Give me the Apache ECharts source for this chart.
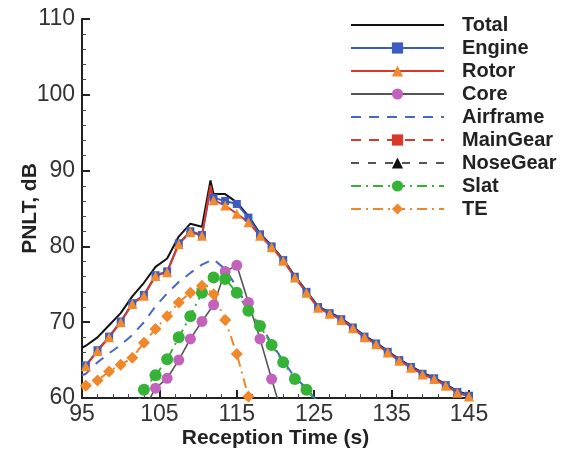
<!DOCTYPE html>
<html>
<head>
<meta charset="utf-8">
<script src="https://cdn.jsdelivr.net/npm/echarts@6/dist/echarts.min.js"></script>
<style>
  html, body { margin: 0; padding: 0; background: #fff; }
  #chart { width: 570px; height: 452px; }
</style>
</head>
<body>
<div id="chart"></div>
<script>
// Reception times (s) of the marked samples
const times = [95.5, 97, 98.5, 100, 101.5, 103, 104.5, 106, 107.5, 109, 110.5, 112, 113.5, 115, 116.5,
  118, 119.5, 121, 122.5, 124, 125.5, 127, 128.5, 130, 131.5, 133, 134.5, 136, 137.5, 139, 140.5,
  142, 143.5, 145];

// PNLT (dB) of each noise component at those times; null = no sample
const total = [66.9, 68.0, 69.6, 71.2, 73.4, 75.2, 77.3, 78.4, 81.3, 83.0, 82.6, 86.9, 86.9, 85.8, 84.0,
  81.7, 80.1, 78.3, 76.1, 74.1, 72.1, 71.3, 70.5, 69.4, 68.2, 67.3, 66.2, 65.1, 64.2, 63.3, 62.7,
  61.8, 60.9, 60.4];
const engine = [64.3, 66.3, 68.1, 70.1, 72.5, 73.6, 76.2, 76.7, 80.4, 82.0, 81.5, 86.4, 86.0, 85.6, 83.8,
  81.6, 80.0, 78.2, 76.0, 74.0, 72.0, 71.2, 70.4, 69.3, 68.1, 67.2, 66.1, 65.0, 64.1, 63.2, 62.6,
  61.7, 60.8, 60.3];
const rotor = [64.2, 66.2, 68.0, 70.0, 72.4, 73.5, 76.1, 76.6, 80.3, 81.9, 81.4, 86.1, 85.4, 84.3, 83.2,
  81.4, 79.9, 78.1, 75.9, 73.9, 71.9, 71.1, 70.3, 69.2, 68.0, 67.1, 66.0, 64.9, 64.0, 63.1, 62.5,
  61.6, 60.7, 60.2];
const core = [null, null, null, null, null, 58.5, 61.3, 62.6, 65.0, 67.8, 70.1, 72.3, 76.7, 77.5, 72.6,
  67.8, 62.5, 57.3, null, null, null, null, null, null, null, null, null, null, null, null, null,
  null, null, null];
const airframe = [63.2, 64.7, 65.9, 67.0, 68.3, 70.0, 72.1, 73.8, 75.3, 76.5, 77.6, 78.3, 77.0, 74.6, 71.8,
  69.7, 67.2, 64.9, 62.7, 61.3, 59.4, null, null, null, null, null, null, null, null, null, null,
  null, null, null];
const mainGear = [57.6, 57.9, 58.1, 58.3, 58.5, 58.6, 58.7, 58.7, 58.6, 58.4, 58.1, 57.7, 57.2, 56.6, 56.0,
  55.3, 54.6, 53.9, 53.2, 52.5, null, null, null, null, null, null, null, null, null, null, null,
  null, null, null];
const noseGear = [53.0, 53.3, 53.6, 53.8, 54.0, 54.1, 54.2, 54.2, 54.1, 53.9, 53.6, 53.2, 52.7, 52.1, 51.5,
  50.8, 50.1, 49.4, 48.7, 48.0, null, null, null, null, null, null, null, null, null, null, null,
  null, null, null];
const slat = [null, null, null, null, 58.0, 61.1, 63.0, 65.1, 68.0, 70.8, 73.9, 75.9, 75.7, 73.9, 71.5,
  69.5, 67.0, 64.7, 62.5, 61.1, 59.3, null, null, null, null, null, null, null, null, null, null,
  null, null, null];
const te = [61.6, 62.3, 63.5, 64.4, 65.3, 67.3, 69.1, 70.8, 72.6, 73.9, 74.8, 73.7, 70.3, 65.8, 60.2,
  54.0, null, null, null, null, null, null, null, null, null, null, null, null, null, null, null,
  null, null, null];

// Unmarked samples: start of record and the tonal spike
const unmarkedTimes = [95, 111.6];
const totalUnmarked = [66.6, 88.7];
const engineUnmarked = [63.9, 87.6];
const rotorUnmarked = [63.8, 88.0];
const airframeUnmarked = [63.0, null];
const teUnmarked = [61.2, null];

const xTicks = [95, 105, 115, 125, 135, 145];
const yTicks = [60, 70, 80, 90, 100, 110];

function buildData(vals, extra) {
  const pts = [];
  times.forEach((t, i) => { if (vals[i] != null) pts.push({ value: [t, vals[i]] }); });
  if (extra) {
    unmarkedTimes.forEach((t, i) => {
      if (extra[i] != null) pts.push({ value: [t, extra[i]], symbol: 'none' });
    });
  }
  pts.sort((a, b) => a.value[0] - b.value[0]);
  return pts;
}

const FONT = '"Liberation Sans", Arial, sans-serif';

function lineSeries(name, vals, extra, opts) {
  return Object.assign({
    name: name,
    type: 'line',
    data: buildData(vals, extra),
    clip: true,
    animation: false,
    connectNulls: false,
    emphasis: { disabled: true }
  }, opts);
}

const series = [
  lineSeries('Total', total, totalUnmarked, {
    symbol: 'none', lineStyle: { color: '#111', width: 2 }, itemStyle: { color: '#111' }
  }),
  lineSeries('Engine', engine, engineUnmarked, {
    symbol: 'rect', symbolSize: 8,
    lineStyle: { color: '#3b5cc0', width: 2 }, itemStyle: { color: '#3b5cc0' }
  }),
  lineSeries('Rotor', rotor, rotorUnmarked, {
    symbol: 'triangle', symbolSize: 10,
    lineStyle: { color: '#d8392b', width: 2 }, itemStyle: { color: '#f28a2c' }
  }),
  lineSeries('Core', core, null, {
    symbol: 'circle', symbolSize: 11,
    lineStyle: { color: '#555', width: 1.6 }, itemStyle: { color: '#c262bd' }
  }),
  lineSeries('Airframe', airframe, airframeUnmarked, {
    symbol: 'none',
    lineStyle: { color: '#4668c4', width: 2, type: [10, 8] }, itemStyle: { color: '#4668c4' }
  }),
  lineSeries('MainGear', mainGear, null, {
    symbol: 'rect', symbolSize: 9,
    lineStyle: { color: '#d8392b', width: 2, type: [10, 8] }, itemStyle: { color: '#d8392b' }
  }),
  lineSeries('NoseGear', noseGear, null, {
    symbol: 'triangle', symbolSize: 9,
    lineStyle: { color: '#555', width: 2, type: [8, 9] }, itemStyle: { color: '#111' }
  }),
  lineSeries('Slat', slat, null, {
    symbol: 'circle', symbolSize: 12,
    lineStyle: { color: '#36b236', width: 2, type: [10, 5, 2, 5] }, itemStyle: { color: '#36b236' }
  }),
  lineSeries('TE', te, teUnmarked, {
    symbol: 'diamond', symbolSize: 12,
    lineStyle: { color: '#f0872a', width: 2, type: [10, 5, 2, 5] }, itemStyle: { color: '#f0872a' }
  })
];

// Legend entries: plain lines get an invisible marker
const legendData = series.map(s => s.symbol === 'none'
  ? { name: s.name, itemStyle: { color: 'rgba(0,0,0,0)', borderWidth: 0 } }
  : { name: s.name });

const axisCommon = {
  type: 'value',
  nameMoveOverlap: false,
  axisLine: { show: true, onZero: false, lineStyle: { color: '#222', width: 2 } },
  axisTick: { show: true, inside: true, length: 8, lineStyle: { color: '#222', width: 2 } },
  minorTick: { show: true, splitNumber: 5, length: 4, lineStyle: { color: '#444', width: 1 } },
  splitLine: { show: false },
  minorSplitLine: { show: false },
  axisLabel: { fontFamily: FONT, fontSize: 23, color: '#333' },
  nameTextStyle: { fontFamily: FONT, fontSize: 21, fontWeight: 'bold', color: '#222' }
};

const chart = echarts.init(document.getElementById('chart'), null, { renderer: 'canvas' });
chart.setOption({
  backgroundColor: '#fff',
  animation: false,
  grid: { left: 82, right: 101, top: 19, bottom: 54, containLabel: false, outerBoundsMode: 'none' },
  legend: {
    orient: 'vertical',
    left: 345,
    top: 10,
    itemWidth: 93,
    itemHeight: 14,
    itemGap: 3,
    selectedMode: false,
    data: legendData,
    textStyle: { fontFamily: FONT, fontSize: 20, fontWeight: 'bold', color: '#222', padding: [0, 0, 0, 13] }
  },
  xAxis: Object.assign({}, axisCommon, {
    min: xTicks[0], max: xTicks[xTicks.length - 1], interval: 10,
    name: 'Reception Time (s)', nameLocation: 'middle', nameGap: 30,
    nameTextStyle: Object.assign({}, axisCommon.nameTextStyle, { verticalAlign: 'top' }),
    axisLabel: Object.assign({}, axisCommon.axisLabel, { margin: 5 })
  }),
  yAxis: Object.assign({}, axisCommon, {
    min: yTicks[0], max: yTicks[yTicks.length - 1], interval: 10,
    name: 'PNLT, dB', nameLocation: 'middle', nameGap: 41, nameRotate: 90,
    nameTextStyle: Object.assign({}, axisCommon.nameTextStyle, { verticalAlign: 'bottom' }),
    axisLabel: Object.assign({}, axisCommon.axisLabel, { margin: 7 })
  }),
  series: series
});
</script>
</body>
</html>
